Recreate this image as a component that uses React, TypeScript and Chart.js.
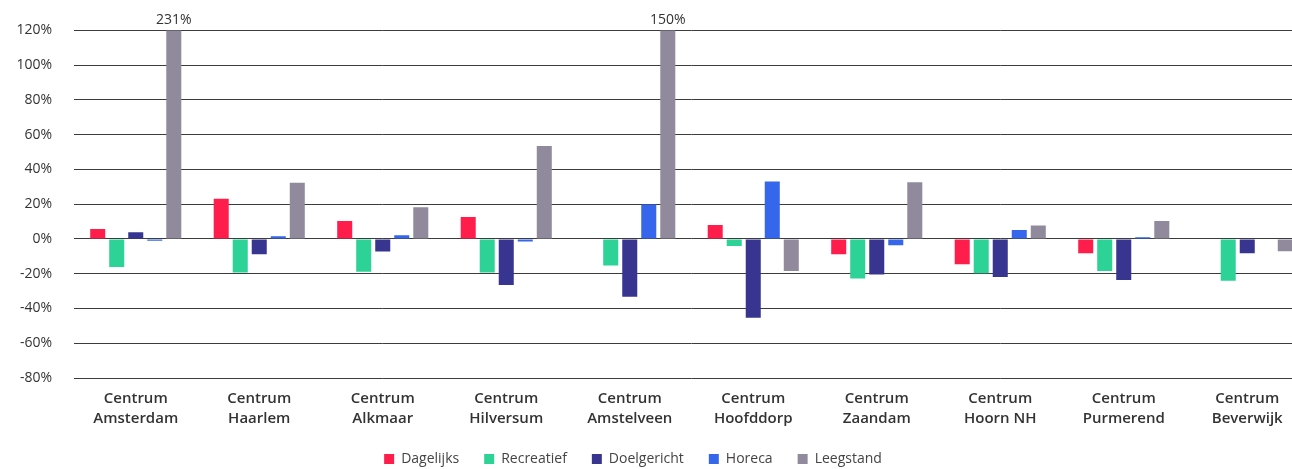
import React, { useEffect, useRef } from "react";
import { Chart, registerables } from "chart.js";

Chart.register(...registerables);

const categories: string[][] = [
  ["Centrum", "Amsterdam"],
  ["Centrum", "Haarlem"],
  ["Centrum", "Alkmaar"],
  ["Centrum", "Hilversum"],
  ["Centrum", "Amstelveen"],
  ["Centrum", "Hoofddorp"],
  ["Centrum", "Zaandam"],
  ["Centrum", "Hoorn NH"],
  ["Centrum", "Purmerend"],
  ["Centrum", "Beverwijk"],
];

const dagelijks = [5.7, 23.2, 10.3, 12.6, null, 8, -8.8, -14.5, -8.2, null];
const recreatief = [-16.2, -19.3, -18.9, -19.3, -15.2, -4, -22.7, -19.8, -18.5, -24];
const doelgericht = [3.8, -8.8, -7.2, -26.5, -33.3, -45.3, -20.4, -21.9, -23.6, -8.2];
const horeca = [-1, 1.5, 2.1, -1.5, 19.8, 33, -3.6, 5.2, 1, null];
const leegstand = [231, 32.3, 18.3, 53.5, 150, -18.5, 32.6, 7.8, 10.3, -7];

const seriesNames = ["Dagelijks", "Recreatief", "Doelgericht", "Horeca", "Leegstand"];
const seriesColors = ["#FF1E4B", "#2DD296", "#383590", "#3566EB", "#918A9D"];

const yMin = -80;
const yMax = 120;
const yStep = 20;

const FONT = "'Open Sans', 'DejaVu Sans', sans-serif";

const overflowLabels = {
  id: "overflowLabels",
  afterDatasetsDraw(chart: any) {
    const { ctx, chartArea } = chart;
    const yScale = chart.scales.y;
    chart.data.datasets.forEach((ds: any, di: number) => {
      const meta = chart.getDatasetMeta(di);
      ds.data.forEach((v: number | null, i: number) => {
        if (v == null || v <= yScale.max) return;
        const el = meta.data[i];
        ctx.save();
        ctx.font = `14px ${FONT}`;
        ctx.fillStyle = "#333333";
        ctx.textAlign = "center";
        ctx.textBaseline = "alphabetic";
        ctx.fillText(`${v}%`, el.x, chartArea.top - 6);
        ctx.restore();
      });
    });
  },
};

export default function App() {
  const ref = useRef<HTMLCanvasElement | null>(null);

  useEffect(() => {
    if (!ref.current) return;
    const data = [dagelijks, recreatief, doelgericht, horeca, leegstand];
    const chart = new Chart(ref.current, {
      type: "bar",
      data: {
        labels: categories,
        datasets: data.map((d, i) => ({
          label: seriesNames[i],
          data: d,
          backgroundColor: seriesColors[i],
          borderWidth: 0,
          categoryPercentage: 0.77,
          barPercentage: 0.79,
        })),
      },
      options: {
        animation: false,
        responsive: false,
        maintainAspectRatio: false,
        layout: { padding: { top: 29, left: 0, right: 0, bottom: 0 } },
        plugins: {
          legend: {
            position: "bottom",
            labels: {
              boxWidth: 10,
              boxHeight: 10,
              padding: 25,
              color: "#444444",
              font: { family: FONT, size: 14 },
            },
          },
          tooltip: { enabled: false },
        },
        scales: {
          x: {
            grid: { display: false },
            border: { display: false },
            ticks: {
              color: "#333333",
              padding: 3,
              maxRotation: 0,
              autoSkip: false,
              font: { family: FONT, size: 15, weight: "600", lineHeight: 1.333 },
            },
            afterFit(scale: any) {
              scale.height = 49;
            },
          },
          y: {
            min: yMin,
            max: yMax,
            border: { display: false },
            grid: { color: "#3c3c3c", lineWidth: 1, drawTicks: false },
            ticks: {
              stepSize: yStep,
              padding: 22,
              color: "#333333",
              font: { family: FONT, size: 14 },
              callback: (v: any) => `${v}%`,
            },
            afterFit(scale: any) {
              scale.width = 117;
            },
          },
        },
      },
      plugins: [overflowLabels],
    });
    return () => chart.destroy();
  }, []);

  return (
    <div
      style={{
        position: "fixed",
        left: 0,
        top: 0,
        width: 1292,
        height: 469,
        overflow: "hidden",
        background: "#ffffff",
      }}
    >
      <canvas
        ref={ref}
        width={1352}
        height={476}
        style={{ position: "absolute", left: -43, top: 0, width: 1352, height: 476 }}
      />
    </div>
  );
}
